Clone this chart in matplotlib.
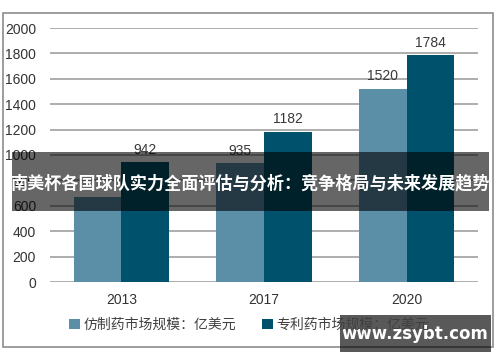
import matplotlib.pyplot as plt
from matplotlib.patches import Rectangle
import numpy as np

plt.rcParams['font.family'] = ['Noto Sans CJK SC', 'DejaVu Sans']

# 数据
years = ['2013', '2017', '2020']
fangzhi = [670, 935, 1520]     # 仿制药市场规模
zhuanli = [942, 1182, 1784]    # 专利药市场规模
yticks = [0, 200, 400, 600, 800, 1000, 1200, 1400, 1600, 1800, 2000]
labels = ['仿制药市场规模：亿美元', '专利药市场规模：亿美元']
titulo = '南美杯各国球队实力全面评估与分析：竞争格局与未来发展趋势'
marca = 'www.zsybt.com'

W, H = 500, 362
fig = plt.figure(figsize=(W / 100, H / 100), dpi=100)


def fx(px):
    return px / W


def fy(py):
    return 1 - py / H


# marco exterior
fig.add_artist(Rectangle((fx(3), fy(347)), fx(490), (347 - 13) / H,
                         transform=fig.transFigure, fill=False,
                         edgecolor='#8c8c8c', linewidth=1.2))

ax = fig.add_axes([fx(50), fy(282), 428 / W, (282 - 28) / H])
x = np.arange(len(years))
bw = 0.335
b1 = ax.bar(x - bw / 2, fangzhi, bw, color='#5b8fa8', label=labels[0])
b2 = ax.bar(x + bw / 2, zhuanli, bw, color='#00516b', label=labels[1])

num = 'Liberation Sans'
# etiquetas de valor (el primero queda tapado por la banda)
for xi, v in zip(x[1:], fangzhi[1:]):
    ax.text(xi - bw / 2, v + 45, str(v), ha='center', va='bottom',
            fontsize=10, color='#3a3a3a', family=num)
for xi, v in zip(x, zhuanli):
    ax.text(xi + bw / 2, v + 45, str(v), ha='center', va='bottom',
            fontsize=10, color='#3a3a3a', family=num)

ax.set_xlim(-0.5, 2.5)
ax.set_ylim(0, 2000)
ax.set_yticks(yticks)
ax.set_xticks(x)
ax.set_xticklabels(years)
ax.grid(axis='y', color='#a0a0a0', linewidth=1.2)
ax.set_axisbelow(True)
for s in ax.spines.values():
    s.set_visible(False)
ax.tick_params(length=0, labelsize=10, colors='#333333')
ax.tick_params(axis='y', pad=10)
ax.tick_params(axis='x', pad=8)
for t in ax.get_xticklabels() + ax.get_yticklabels():
    t.set_family(num)

leg = fig.legend(handles=[b1, b2], labels=labels, loc='center',
                 bbox_to_anchor=(fx(249), fy(325)), ncol=2, frameon=False,
                 fontsize=10, handlelength=0.75, handleheight=0.75,
                 handletextpad=0.25, columnspacing=1.9)
for t in leg.get_texts():
    t.set_color('#404040')

# banda con el titulo
fig.add_artist(Rectangle((fx(12), fy(211)), fx(477), (211 - 152) / H,
                         transform=fig.transFigure, color='black',
                         alpha=0.6, linewidth=0))
fig.text(fx(250), fy(183), titulo, ha='center', va='center',
         fontsize=12.3, color='white', fontweight='bold')

# marca de agua
fig.add_artist(Rectangle((fx(340), fy(352)), fx(151), (352 - 315) / H,
                         transform=fig.transFigure, color='black',
                         alpha=0.65, linewidth=0))
fig.text(fx(415), fy(334), marca, ha='center', va='center',
         fontsize=12, color='white', fontweight='bold', family='DejaVu Sans')

fig.savefig('out.png', dpi=100)
